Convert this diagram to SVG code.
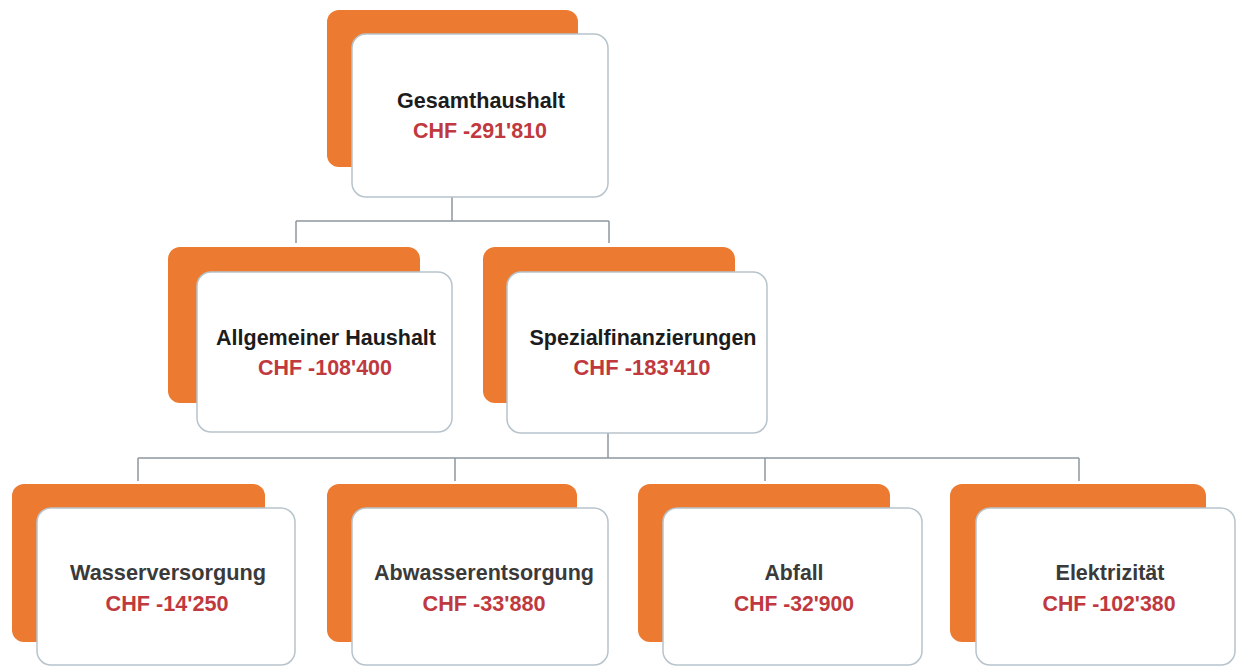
<svg xmlns="http://www.w3.org/2000/svg" width="1245" height="666" viewBox="0 0 1245 666">
<style>
.bg{fill:#ffffff}
.back{fill:#ec7a30}
.card{fill:#ffffff;stroke:#b7c4cc;stroke-width:1.5}
.t{font-family:"Liberation Sans",Arial,sans-serif;font-weight:bold;font-size:22px;text-anchor:middle;fill:#1c1c1c}
.t3{fill:#3a3a3a}
.v{font-family:"Liberation Sans",Arial,sans-serif;font-weight:bold;font-size:21.5px;text-anchor:middle;fill:#c0393e}
.c{fill:none;stroke:#8f989e;stroke-width:1.5}
</style>
<rect class="bg" x="0" y="0" width="1245" height="666"/>
<g id="connectors">
<path class="c" d="M452,197 V221 M296,221 H609 M296,221 V243 M609,221 V243"/>
<path class="c" d="M608,433 V458 M138,458 H1079 M138,458 V481 M455,458 V481 M765,458 V481 M1079,458 V481"/>
</g>
<g id="gesamthaushalt">
<rect class="back" x="327" y="10" width="251" height="157" rx="12"/>
<rect class="card" x="352" y="34" width="256" height="163" rx="14"/>
<text class="t" x="481" y="108" textLength="168" lengthAdjust="spacingAndGlyphs">Gesamthaushalt</text>
<text class="v" x="480" y="138" textLength="134" lengthAdjust="spacingAndGlyphs">CHF -291'810</text>
</g>
<g id="allgemeiner-haushalt">
<rect class="back" x="168" y="247" width="252" height="156" rx="12"/>
<rect class="card" x="197" y="272" width="255" height="160" rx="14"/>
<text class="t" x="326" y="345" textLength="220" lengthAdjust="spacingAndGlyphs">Allgemeiner Haushalt</text>
<text class="v" x="325" y="375" textLength="134" lengthAdjust="spacingAndGlyphs">CHF -108'400</text>
</g>
<g id="spezialfinanzierungen">
<rect class="back" x="483" y="247" width="252" height="156" rx="12"/>
<rect class="card" x="507" y="272" width="260" height="161" rx="14"/>
<text class="t" x="643" y="345" textLength="227" lengthAdjust="spacingAndGlyphs">Spezialfinanzierungen</text>
<text class="v" x="642" y="375" textLength="137" lengthAdjust="spacingAndGlyphs">CHF -183'410</text>
</g>
<g id="wasserversorgung">
<rect class="back" x="12" y="484" width="253" height="158" rx="12"/>
<rect class="card" x="37" y="508" width="258" height="157" rx="14"/>
<text class="t t3" x="168" y="580" textLength="196" lengthAdjust="spacingAndGlyphs">Wasserversorgung</text>
<text class="v" x="167" y="611" textLength="123" lengthAdjust="spacingAndGlyphs">CHF -14'250</text>
</g>
<g id="abwasserentsorgung">
<rect class="back" x="327" y="484" width="250" height="158" rx="12"/>
<rect class="card" x="352" y="508" width="256" height="157" rx="14"/>
<text class="t t3" x="484" y="580" textLength="220" lengthAdjust="spacingAndGlyphs">Abwasserentsorgung</text>
<text class="v" x="484" y="611" textLength="123" lengthAdjust="spacingAndGlyphs">CHF -33'880</text>
</g>
<g id="abfall">
<rect class="back" x="638" y="484" width="252" height="158" rx="12"/>
<rect class="card" x="663" y="508" width="259" height="157" rx="14"/>
<text class="t t3" x="794" y="580" textLength="59" lengthAdjust="spacingAndGlyphs">Abfall</text>
<text class="v" x="794" y="611" textLength="120" lengthAdjust="spacingAndGlyphs">CHF -32'900</text>
</g>
<g id="elektrizitaet">
<rect class="back" x="950" y="484" width="256" height="158" rx="12"/>
<rect class="card" x="976" y="508" width="259" height="157" rx="14"/>
<text class="t t3" x="1110" y="580" textLength="109" lengthAdjust="spacingAndGlyphs">Elektrizität</text>
<text class="v" x="1109" y="611" textLength="133" lengthAdjust="spacingAndGlyphs">CHF -102'380</text>
</g>
</svg>
